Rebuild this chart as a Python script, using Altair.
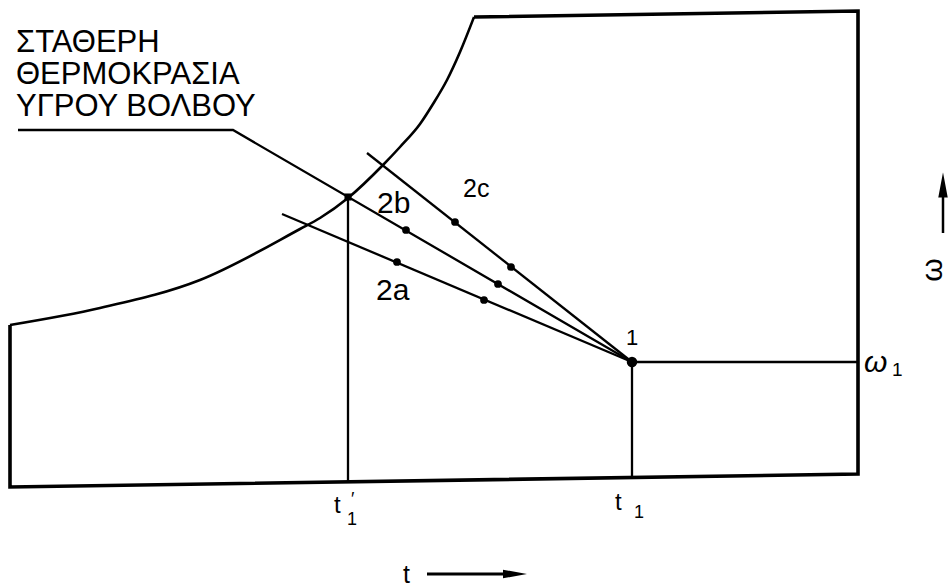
import altair as alt
import pandas as pd

# Diagram units: t runs left to right, w (humidity ratio) runs bottom to top.
T_MAX, W_MAX = 951, 587

# Saturation curve (100 % relative humidity)
sat_t = [10, 100, 200, 300, 320, 348, 383, 400, 420, 433, 447, 460, 474]
sat_w = [262, 279, 307, 358, 369, 389, 422, 440, 463, 483, 507, 535, 570]

# Chart boundary: top edge, right edge, bottom edge, left edge
frame_t = [474, 858, 858, 10, 10]
frame_w = [570, 576, 113, 100, 262]

# State 1 and the wet-bulb temperature point on the saturation curve
state1 = (632, 225)
wetbulb_pt = (348, 390)

# Process lines converging on state 1
proc_names = ["wb", "wb", "wb", "2a", "2a", "2c", "2c",
              "t1p", "t1p", "t1", "t1", "w1", "w1"]
proc_t = [18, 233, 632, 282, 632, 367, 632, 348, 348, 632, 632, 632, 858]
proc_w = [457, 457, 225, 373, 225, 434, 225, 390, 105, 225, 110, 225, 225]

# Intermediate states marked along 2a, 2b, 2c
mark_t = [455, 511, 406, 498, 397, 484]
mark_w = [365, 320, 357, 303, 325, 287]

# Text
title_lines = ["ΣΤΑΘΕΡΗ", "ΘΕΡΜΟΚΡΑΣΙΑ", "ΥΓΡΟΥ ΒΟΛΒΟΥ"]
title_t = [16, 16, 16]
title_w = [535, 503, 471]

big_labels = ["2b", "2a"]
big_t = [377, 376]
big_w = [374, 287]

FONT = "Liberation Sans"

x_enc = alt.X("t:Q", scale=alt.Scale(domain=[0, T_MAX], nice=False, zero=False), axis=None)
y_enc = alt.Y("w:Q", scale=alt.Scale(domain=[0, W_MAX], nice=False, zero=False), axis=None)


def pts(t, w, **extra):
    d = {"t": t, "w": w}
    d.update(extra)
    return pd.DataFrame(d)


def text_layer(t, w, labels, size, align="left", angle=0, style="normal", baseline="alphabetic"):
    return alt.Chart(pts(t, w, label=labels)).mark_text(
        font=FONT, fontSize=size, align=align, baseline=baseline,
        angle=angle, fontStyle=style, color="black"
    ).encode(x=x_enc, y=y_enc, text="label:N")


frame = alt.Chart(pts(frame_t, frame_w, o=list(range(len(frame_t))))).mark_line(
    color="black", strokeWidth=3.6, strokeJoin="miter"
).encode(x=x_enc, y=y_enc, order="o:Q")

curve = alt.Chart(pts(sat_t, sat_w, o=list(range(len(sat_t))))).mark_line(
    color="black", strokeWidth=2.6, interpolate="monotone"
).encode(x=x_enc, y=y_enc, order="o:Q")

proc = alt.Chart(pts(proc_t, proc_w, name=proc_names, o=list(range(len(proc_t))))).mark_line(
    color="black", strokeWidth=2.3
).encode(x=x_enc, y=y_enc, detail="name:N", order="o:Q")

markers = alt.Chart(pts(mark_t, mark_w)).mark_circle(
    color="black", size=60, opacity=1
).encode(x=x_enc, y=y_enc)

p1 = alt.Chart(pts([state1[0]], [state1[1]])).mark_circle(
    color="black", size=110, opacity=1
).encode(x=x_enc, y=y_enc)

pwb = alt.Chart(pts([wetbulb_pt[0]], [wetbulb_pt[1]])).mark_square(
    color="black", size=50, opacity=1
).encode(x=x_enc, y=y_enc)

# Axis direction arrows (t to the right, w upwards)
t_arrow = alt.Chart(pts([427, 512], [13, 13])).mark_line(
    color="black", strokeWidth=3
).encode(x=x_enc, y=y_enc)
t_head = alt.Chart(pts([515], [13])).mark_point(
    shape="M-1,-0.36L1,0L-1,0.36Z", size=576, filled=True, color="black", opacity=1
).encode(x=x_enc, y=y_enc)
w_arrow = alt.Chart(pts([943, 943], [354, 396])).mark_line(
    color="black", strokeWidth=2.5
).encode(x=x_enc, y=y_enc)
w_head = alt.Chart(pts([943], [402])).mark_point(
    shape="M0,-1L0.38,1L-0.38,1Z", size=625, filled=True, color="black", opacity=1
).encode(x=x_enc, y=y_enc)

texts = [
    text_layer(title_t, title_w, title_lines, 31),
    text_layer(big_t, big_w, big_labels, 30),
    text_layer([463], [390], ["2c"], 25),
    text_layer([632], [242], ["1"], 22, align="center"),
    # w1 at the right edge
    text_layer([864], [215], ["ω"], 30, style="italic"),
    text_layer([892], [211], ["1"], 19),
    # rotated w beside its arrow
    text_layer([933], [317], ["ω"], 30, align="center", angle=270, baseline="middle"),
    # t1' and t1 under the base line
    text_layer([334], [74], ["t"], 24),
    text_layer([347], [62], ["1"], 18),
    text_layer([351], [82], ["′"], 18),
    text_layer([615], [77], ["t"], 24),
    text_layer([634], [69], ["1"], 18),
    # t axis label
    text_layer([403], [4], ["t"], 25),
]

chart = alt.layer(
    frame, curve, proc, markers, p1, pwb, t_arrow, t_head, w_arrow, w_head, *texts
).properties(
    width=T_MAX, height=W_MAX, padding=0, autosize=alt.AutoSizeParams(type="none"),
    background="white"
).configure_view(stroke=None)

chart.save("out.html", embed_options={"renderer": "svg", "actions": False})
